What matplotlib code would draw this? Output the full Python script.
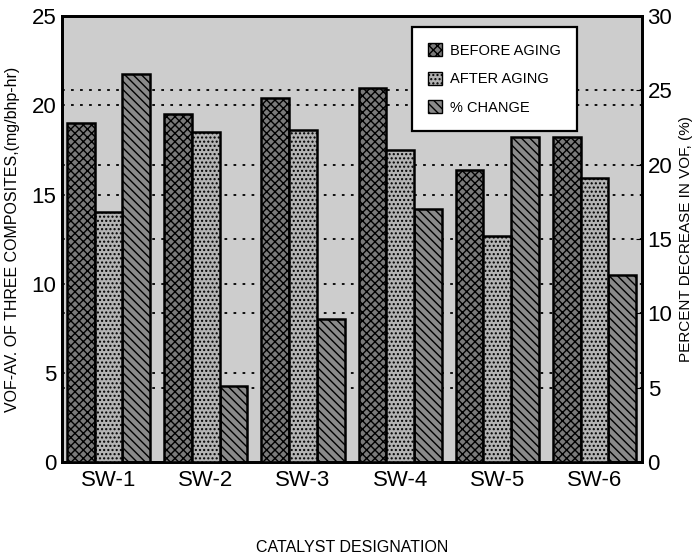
import matplotlib
matplotlib.use("Agg")
import matplotlib.pyplot as plt
import matplotlib.transforms as mtransforms
import matplotlib.patches as mpatches
import numpy as np

plt.rcParams['font.family'] = ['Liberation Sans', 'DejaVu Sans']
plt.rcParams['hatch.linewidth'] = 1.0

# data
catalysts = ["SW-1", "SW-2", "SW-3", "SW-4", "SW-5", "SW-6"]
before_aging = [19.0, 19.5, 20.4, 21.0, 16.4, 18.2]
after_aging = [14.0, 18.5, 18.6, 17.5, 12.7, 15.9]
pct_change = [26.1, 5.1, 9.6, 17.0, 21.9, 12.6]

left_grid = [5, 10, 15, 20]
right_grid = [5, 10, 15, 20, 25]

fig = plt.figure(figsize=(7.0, 5.58), dpi=100)
ax = fig.add_axes([0.0886, 0.172, 0.8286, 0.799])
ax2 = ax.twinx()

# right axis sits underneath so its bars/grid stay behind the left bars
ax2.set_zorder(1)
ax.set_zorder(2)
ax.patch.set_visible(False)
ax2.patch.set_visible(True)
ax2.patch.set_facecolor('#cdcdcd')

x = np.arange(len(catalysts))
w = 0.285

ax.bar(x - w, before_aging, w, facecolor='#7a7a7a', edgecolor='black',
       linewidth=1.8, hatch='xxxx', zorder=3)
ax.bar(x, after_aging, w, facecolor='#b4b4b4', edgecolor='black',
       linewidth=1.8, hatch='....', zorder=3)
ax2.bar(x + w, pct_change, w, facecolor='#8a8a8a', edgecolor='black',
        linewidth=1.8, hatch='\\\\\\\\', zorder=3)

# dotted grid for both scales, drawn on the bottom layer
left_tr = mtransforms.blended_transform_factory(ax2.transAxes, ax.transData)
for v in left_grid:
    ax2.plot([0, 1], [v, v], transform=left_tr, ls=(0, (1.5, 3.5)),
             color='black', lw=1.3, zorder=1)
for v in right_grid:
    ax2.axhline(v, ls=(0, (1.5, 3.5)), color='black', lw=1.3, zorder=1)

ax.set_xlim(-0.48, 5.49)
ax.set_ylim(0, 25)
ax2.set_ylim(0, 30)
ax.set_yticks([0, 5, 10, 15, 20, 25])
ax2.set_yticks([0, 5, 10, 15, 20, 25, 30])
ax.set_xticks(x)
ax.set_xticklabels(catalysts)

ax.tick_params(axis='x', length=0, labelsize=16, pad=6)
ax.tick_params(axis='y', length=0, labelsize=16, pad=4)
ax2.tick_params(axis='y', direction='in', length=4, labelsize=16, pad=4)

for a in (ax, ax2):
    for s in a.spines.values():
        s.set_linewidth(2)
        s.set_color('black')

ax.set_xlabel("CATALYST DESIGNATION", fontsize=11.5, labelpad=35)
ax.set_ylabel("VOF-AV. OF THREE COMPOSITES,(mg/bhp-hr)", fontsize=11.5, labelpad=8)
ax2.set_ylabel("PERCENT DECREASE IN VOF, (%)", fontsize=11, labelpad=5)

handles = [
    mpatches.Patch(facecolor='#7a7a7a', edgecolor='black', hatch='xxxx'),
    mpatches.Patch(facecolor='#b4b4b4', edgecolor='black', hatch='....'),
    mpatches.Patch(facecolor='#8a8a8a', edgecolor='black', hatch='\\\\\\\\'),
]
leg = ax.legend(handles, ["BEFORE AGING", "AFTER AGING", "% CHANGE"],
                loc='upper left', bbox_to_anchor=(0.603, 0.975),
                borderaxespad=0,
                fontsize=10.5, handlelength=1.0, handleheight=1.0,
                labelspacing=0.95, handletextpad=0.5, borderpad=1.1,
                fancybox=False, framealpha=1, edgecolor='black')
leg.get_frame().set_linewidth(1.6)

fig.savefig("out.png", dpi=100)
